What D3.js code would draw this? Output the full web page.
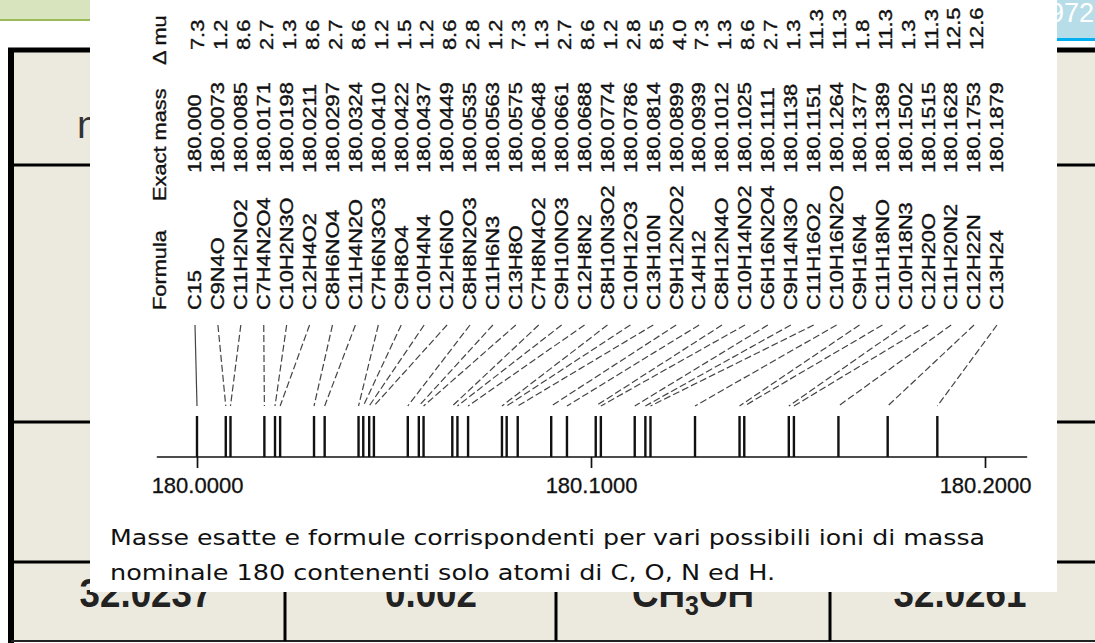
<!DOCTYPE html>
<html>
<head>
<meta charset="utf-8">
<script src="https://cdn.jsdelivr.net/npm/d3@7"></script>
<style>
  html, body { margin: 0; padding: 0; background: #ffffff; overflow: hidden; }
  svg { display: block; }
</style>
</head>
<body>
<svg id="chart" width="1095" height="643"></svg>
<script>
// Ions of nominal mass 180 containing only C, O, N and H
const formulas = [
  "C15", "C9N4O", "C11H2NO2", "C7H4N2O4", "C10H2N3O", "C12H4O2",
  "C8H6NO4", "C11H4N2O", "C7H6N3O3", "C9H8O4", "C10H4N4", "C12H6NO",
  "C8H8N2O3", "C11H6N3", "C13H8O", "C7H8N4O2", "C9H10NO3", "C12H8N2",
  "C8H10N3O2", "C10H12O3", "C13H10N", "C9H12N2O2", "C14H12", "C8H12N4O",
  "C10H14NO2", "C6H16N2O4", "C9H14N3O", "C11H16O2", "C10H16N2O", "C9H16N4",
  "C11H18NO", "C10H18N3", "C12H20O", "C11H20N2", "C12H22N", "C13H24"
];
const exactMasses = [
  180.0000, 180.0073, 180.0085, 180.0171, 180.0198, 180.0211,
  180.0297, 180.0324, 180.0410, 180.0422, 180.0437, 180.0449,
  180.0535, 180.0563, 180.0575, 180.0648, 180.0661, 180.0688,
  180.0774, 180.0786, 180.0814, 180.0899, 180.0939, 180.1012,
  180.1025, 180.1111, 180.1138, 180.1151, 180.1264, 180.1377,
  180.1389, 180.1502, 180.1515, 180.1628, 180.1753, 180.1879
];
// differences between neighbouring masses, in milli mass units, as printed
const deltaMu = [
  "7.3", "1.2", "8.6", "2.7", "1.3", "8.6", "2.7", "8.6", "1.2", "1.5",
  "1.2", "8.6", "2.8", "1.2", "7.3", "1.3", "2.7", "8.6", "1.2", "2.8",
  "8.5", "4.0", "7.3", "1.3", "8.6", "2.7", "1.3", "11.3", "11.3", "1.8",
  "11.3", "1.3", "11.3", "12.5", "12.6"
];
const columnHeaders = ["Formula", "Exact mass", "\u0394 mu"];
const axisTicks = [180.0, 180.1, 180.2];
const axisExtent = [179.9898, 180.2107];
const captionLines = [
  "Masse esatte e formule corrispondenti per vari possibili ioni di massa",
  "nominale 180 contenenti solo atomi di C, O, N ed H."
];
const bottomRow = ["32.0237", "0.002", "CH3OH", "32.0261"];

const svg = d3.select("#chart");
const SANS = "'Liberation Sans', Arial, Helvetica, sans-serif";

// ---------- slide behind the figure ----------
const slide = svg.append("g");
slide.append("rect").attr("x", 0).attr("y", 0).attr("width", 90).attr("height", 19).attr("fill", "#d7e4bd");
slide.append("rect").attr("x", 0).attr("y", 19).attr("width", 90).attr("height", 2).attr("fill", "#9bbb59");
slide.append("rect").attr("x", 1040).attr("y", 0).attr("width", 55).attr("height", 38).attr("fill", "#b7dde8");
slide.append("rect").attr("x", 1040).attr("y", 38).attr("width", 55).attr("height", 3).attr("fill", "#00b0f0");
slide.append("text").attr("x", 1094).attr("y", 22).attr("text-anchor", "end")
  .attr("font-family", SANS).attr("font-size", 27).attr("fill", "#ffffff").text("1972");

// table
const tableLeft = 11, tableTop = 50, tableBottom = 641;
const rowLines = [165, 422, 562];
const colLines = [285, 556, 830];
slide.append("rect").attr("x", tableLeft).attr("y", tableTop).attr("width", 1095 - tableLeft)
  .attr("height", tableBottom - tableTop).attr("fill", "#ece9df");
slide.append("line").attr("x1", 8).attr("x2", 1095).attr("y1", tableTop).attr("y2", tableTop)
  .attr("stroke", "#000").attr("stroke-width", 5);
slide.append("line").attr("x1", tableLeft).attr("x2", tableLeft).attr("y1", 48).attr("y2", 643)
  .attr("stroke", "#000").attr("stroke-width", 6);
rowLines.forEach(y => slide.append("line").attr("x1", tableLeft).attr("x2", 1095)
  .attr("y1", y).attr("y2", y).attr("stroke", "#000").attr("stroke-width", 3));
slide.append("line").attr("x1", tableLeft).attr("x2", 1095).attr("y1", tableBottom).attr("y2", tableBottom)
  .attr("stroke", "#222").attr("stroke-width", 2);
colLines.forEach(x => slide.append("line").attr("x1", x).attr("x2", x)
  .attr("y1", rowLines[2]).attr("y2", tableBottom).attr("stroke", "#000").attr("stroke-width", 3));

slide.append("text").attr("x", 77).attr("y", 138).attr("font-family", SANS)
  .attr("font-size", 39).attr("fill", "#333").text("nominale");

const colCenters = [146, 431, 693, 960];
bottomRow.forEach((t, i) => {
  const txt = slide.append("text").attr("x", colCenters[i]).attr("y", 607)
    .attr("text-anchor", "middle").attr("font-family", SANS).attr("font-weight", "bold")
    .attr("font-size", 40).attr("fill", "#222")
    .attr("transform", `translate(${colCenters[i]},0) scale(0.92,1) translate(${-colCenters[i]},0)`);
  if (t === "CH3OH") {
    txt.append("tspan").text("CH");
    txt.append("tspan").attr("font-size", 27).attr("dy", 8).text("3");
    txt.append("tspan").attr("dy", -8).text("OH");
  } else {
    txt.text(t);
  }
});

// ---------- figure panel ----------
const panel = svg.append("g");
panel.append("rect").attr("x", 90).attr("y", 0).attr("width", 967).attr("height", 592).attr("fill", "#ffffff");

// mass axis and peak scales
const x = d3.scaleLinear().domain([180.0, 180.2]).range([197, 985]);
const y = d3.scaleLinear().domain([0, 1]).range([457, 416]);
// positions of the rotated table rows
const row = d3.scalePoint().domain(formulas).range([195, 997]);

// baseline of the spectrum
panel.append("line")
  .attr("x1", x(axisExtent[0])).attr("x2", x(axisExtent[1]))
  .attr("y1", y(0)).attr("y2", y(0))
  .attr("stroke", "#111").attr("stroke-width", 1.7);

const axis = panel.append("g").attr("transform", `translate(0,${y(0)})`)
  .call(d3.axisBottom(x).tickValues(axisTicks).tickFormat(d3.format(".4f")).tickSize(11).tickPadding(9));
axis.select(".domain").remove();
axis.selectAll(".tick line").attr("stroke", "#111").attr("stroke-width", 1.7);
axis.selectAll(".tick text").attr("font-family", SANS).attr("font-size", 22).attr("fill", "#111")
  .attr("stroke", "#111").attr("stroke-width", 0.3);

// peaks
panel.append("g").selectAll("line").data(exactMasses).join("line")
  .attr("x1", d => x(d)).attr("x2", d => x(d))
  .attr("y1", y(0)).attr("y2", y(1))
  .attr("stroke", "#111").attr("stroke-width", 2.4);

// leader lines from each formula to its peak
panel.append("g").selectAll("line").data(formulas).join("line")
  .attr("x1", d => row(d)).attr("y1", 325)
  .attr("x2", (d, i) => x(exactMasses[i])).attr("y2", 406)
  .attr("stroke", "#444").attr("stroke-width", 1.2)
  .attr("stroke-dasharray", (d, i) => i === 0 ? null : "7,3");

// rotated table: text reads bottom to top
const STRETCH = 1.245, FS = 17.5, HALF_CAP = 6.3;
function vtext(g, cx, yBottom, str) {
  return g.append("text")
    .attr("transform", `translate(${cx + HALF_CAP},${yBottom}) rotate(-90) scale(${STRETCH},1)`)
    .attr("font-family", SANS).attr("font-size", FS).attr("fill", "#111")
    .attr("stroke", "#111").attr("stroke-width", 0.35)
    .text(str);
}
const table = panel.append("g");
const headerX = 160;
vtext(table, headerX, 310, columnHeaders[0]);
vtext(table, headerX, 201, columnHeaders[1]);
vtext(table, headerX, 65, columnHeaders[2]);

formulas.forEach((f, i) => {
  vtext(table, row(f), 310, f);
  vtext(table, row(f), 173, i === 0 ? exactMasses[i].toFixed(3) : exactMasses[i].toFixed(4));
  if (i < deltaMu.length) vtext(table, row(f) + 3, 50, deltaMu[i]);
});

// caption
captionLines.forEach((t, i) => {
  panel.append("text").attr("x", 110).attr("y", 545 + i * 35)
    .attr("font-family", "'DejaVu Sans', Verdana, sans-serif").attr("font-size", 22)
    .attr("fill", "#111")
    .attr("textLength", i === 0 ? 875 : 665).attr("lengthAdjust", "spacingAndGlyphs")
    .text(t);
});
</script>
</body>
</html>
